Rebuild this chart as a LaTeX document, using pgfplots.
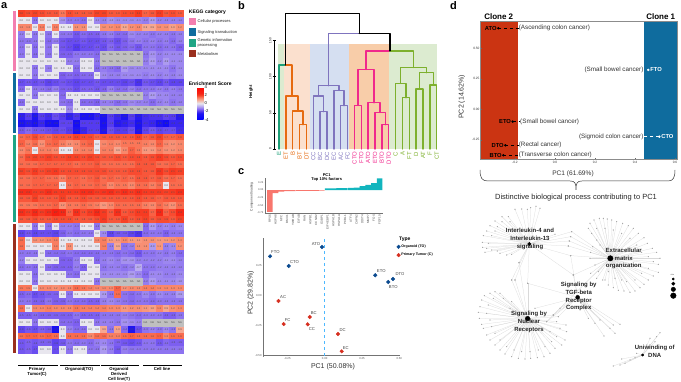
\documentclass[border=0pt]{standalone}
\usepackage{pgfplots}
\usepackage{pgfplotstable}
\pgfplotsset{compat=1.18}
\usepackage{fontspec}
\setmainfont{Liberation Sans}
\newcommand\fs[1]{\fontsize{#1}{#1}\selectfont}
\definecolor{cpink}{HTML}{F37FB0}
\definecolor{cblue}{HTML}{0F6C9E}
\definecolor{cgreen}{HTML}{1FA585}
\definecolor{cbrown}{HTML}{9A2F1E}
\definecolor{dteal}{HTML}{1B9E77}
\definecolor{dor}{HTML}{E66A0F}
\definecolor{dpur}{HTML}{7F74BE}
\definecolor{dpink}{HTML}{F0288C}
\definecolor{dgrn}{HTML}{7DB02D}
\definecolor{dred}{HTML}{CB3412}
\definecolor{dblu}{HTML}{0F6C9E}
\definecolor{ptblue}{HTML}{0B4A8F}
\definecolor{ptred}{HTML}{D62E1F}
\definecolor{salm}{HTML}{F8766D}
\definecolor{tealb}{HTML}{12B5BE}
\definecolor{bandg}{HTML}{DCEBD0}
\definecolor{bandp}{HTML}{FBE0CE}
\definecolor{bandb}{HTML}{D5DFF1}
\definecolor{bando}{HTML}{F8CDA9}
\pgfplotsset{
 colormap={heat}{rgb255=(0,0,255) rgb255=(10,7,250) rgb255=(20,13,245) rgb255=(30,20,240) rgb255=(75,50,240) rgb255=(125,95,240) rgb255=(165,145,240) rgb255=(200,190,239) rgb255=(232,230,238) rgb255=(240,198,188) rgb255=(247,160,135) rgb255=(250,118,88) rgb255=(247,65,38) rgb255=(246,35,20) rgb255=(249,27,15) rgb255=(252,14,8) rgb255=(255,0,0)},
 /pgf/number format/assume math mode=true,
}
\pgfplotstableread[header=false]{
2.0 1.9 2.0 1.9 1.8 1.8 1.5 1.9 1.8 1.8 1.8 2.0 2.0 1.8 1.8 1.9 1.9 2.1 1.7 1.8 2.1 1.8 1.9 1.8
0.0 0.0 -1.3 0.0 0.0 0.0 -1.0 -1.3 -1.3 -1.4 0.0 -1.1 -1.2 -1.0 -1.1 -1.1 -1.1 -1.1 -1.2 -0.9 -1.2 -1.2 -1.2 -1.2
1.3 1.3 0.0 1.4 0.0 1.4 0.0 0.0 1.2 1.2 0.0 0.0 1.2 1.2 1.3 0.9 1.2 1.3 0.9 0.9 1.2 1.2 1.0 1.2
-1.2 0.0 -1.3 0.0 -1.3 0.0 -1.3 -1.3 -1.6 -1.4 -1.5 -1.5 -1.3 -1.2 -1.4 -1.4 -1.1 -1.2 -1.2 -1.3 -1.2 -1.2 -1.3 -1.2
-1.3 -1.3 -1.3 0.0 -1.4 -1.2 -1.6 -1.7 -1.7 -1.6 -1.7 -1.7 -1.6 -1.5 -1.7 -1.5 -1.3 -1.2 -1.3 -1.2 -1.3 -1.2 -1.4 -1.2
-1.3 0.0 -1.4 0.0 -1.3 0.0 -1.6 -1.7 -1.9 -1.7 -1.7 -1.6 -1.7 -1.4 -1.6 -1.5 -1.4 -1.6 -1.3 -1.3 -1.4 -1.3 -1.3 -1.5
-1.3 0.0 -1.4 0.0 -1.3 0.0 -1.5 -1.5 -1.3 -1.3 -1.3 -1.4 0 0 0 0 0 0 -1.3 -1.0 -1.2 -1.1 -1.1 -1.1
0.0 0.0 0.0 0.0 0.0 0.0 0.0 -1.2 -1.2 0.0 0.0 -1.3 0 0 0 0 0 0 -1.2 -0.9 -1.2 -0.9 -1.1 -1.1
0.0 0.0 -1.3 0.0 -1.2 0.0 0.0 0.0 -1.4 0.0 0.0 -1.4 -1.2 -1.3 -1.4 -0.9 -1.1 -1.1 -1.1 -1.1 -1.1 -1.1 -1.3 -1.1
0.0 0.0 -1.3 0.0 0.0 0.0 -1.5 -1.4 -1.5 -1.4 -1.4 0.0 -1.1 -1.2 -1.2 -1.1 -1.1 -1.1 -1.2 -1.1 -1.2 -1.1 -1.2 -1.1
-1.7 -1.6 -1.7 -1.6 -1.8 -1.7 -1.6 -1.7 -1.8 -1.7 -1.7 -1.6 -1.7 -1.7 -1.7 -1.8 -1.7 -2.0 -1.6 -1.7 -1.8 -1.6 -1.8 -1.8
-1.4 0.0 -1.3 -1.3 -1.4 -1.2 -1.5 -1.5 -1.7 -1.5 -1.5 -1.6 -1.5 -1.2 -1.4 -1.4 -1.2 -1.4 -1.3 -1.3 -1.2 -1.3 -1.2 -1.3
0.0 0.0 -1.3 0.0 0.0 0.0 -1.4 0.0 0.0 0.0 0.0 0.0 0 0 0 0 0 0 -1.2 -0.9 -1.1 -1.1 -1.2 -1.2
-1.4 0.0 0.0 0.0 0.0 0.0 -1.3 -1.4 0.0 -1.4 -1.4 -1.5 -1.2 -1.2 -1.4 -1.3 -1.1 -1.2 -1.2 -1.4 -1.2 -1.1 -1.3 -1.2
0.0 0.0 -1.3 0.0 0.0 0.0 0.0 -1.1 0.0 0.0 0.0 0.0 0 0 0 0 0 0 0 0 0 0 0 0
-2.3 -1.9 -2.5 -1.9 -2.1 -1.7 -1.9 -2.3 -2.0 -2.7 -2.7 -2.3 -2.7 -1.9 -2.2 -2.5 -1.9 -2.4 -2.1 -2.0 -2.0 -1.8 -1.9 -2.4
-2.6 -2.4 -2.6 -2.2 -2.7 -2.8 -1.8 -1.8 -2.9 -1.9 -1.9 -1.9 -2.7 -1.9 -2.4 -2.3 -2.1 -2.6 -2.1 -2.2 -2.5 -3.0 -2.2 -2.2
-1.6 -1.4 -1.6 -1.6 -1.7 -1.8 -1.7 -1.9 -2.6 -2.2 -1.9 -1.9 -2.5 -1.7 -1.9 -1.9 -1.7 -2.5 -1.8 -1.6 -1.8 -1.7 -1.7 -2.1
1.6 1.7 1.9 1.7 1.6 1.8 1.8 1.8 2.0 1.9 1.9 1.7 1.8 1.8 1.8 1.8 1.8 2.0 1.7 1.8 2.0 1.7 1.7 1.8
1.7 1.4 1.6 1.2 1.6 1.7 1.4 1.2 1.3 1.6 1.7 0.0 1.3 1.4 1.3 1.5 1.5 1.5 1.4 1.3 1.7 1.3 1.2 1.3
1.3 1.5 0.0 1.4 1.4 1.3 0.0 0.0 1.3 1.4 1.4 0.0 1.4 1.4 0.9 1.3 1.7 1.5 1.1 1.1 1.4 1.2 1.2 1.3
1.6 1.9 2.0 1.9 2.0 1.9 1.9 2.0 2.0 1.9 2.0 1.9 1.8 1.8 1.9 1.8 1.9 1.9 1.8 1.9 2.1 1.9 1.8 1.9
1.6 1.6 1.6 1.7 1.7 1.7 1.7 1.7 1.6 1.7 1.7 1.8 1.6 1.6 1.6 1.6 1.6 1.8 1.8 1.8 1.6 1.6 1.7 1.6
2.0 1.9 2.1 1.9 2.0 2.1 1.9 1.9 1.9 1.9 1.9 1.9 1.9 1.8 1.8 1.8 1.9 1.9 1.8 1.8 2.2 1.9 2.1 2.0
1.6 1.6 1.7 1.7 1.6 1.6 1.4 1.7 1.7 1.6 1.7 1.8 1.6 1.7 1.6 1.7 1.6 1.8 1.8 1.7 1.8 1.6 1.7 1.6
1.6 1.6 1.7 1.7 1.7 1.7 0.0 1.6 1.7 1.6 1.6 1.7 1.6 1.3 1.5 1.5 1.3 1.6 1.6 1.4 1.6 0.0 1.6 1.6
2.3 2.3 2.1 2.1 2.3 2.1 2.1 2.1 2.1 2.3 2.3 2.1 2.2 2.3 2.1 2.3 2.1 2.3 2.1 2.1 2.1 2.0 2.1 2.3
1.8 1.8 2.0 1.8 1.8 1.8 2.0 1.8 1.8 1.9 1.8 1.8 1.8 1.8 1.8 1.8 1.8 1.9 1.8 1.8 1.7 1.8 1.8 1.8
1.5 1.5 1.5 1.6 1.6 1.7 1.2 1.5 1.5 1.6 1.5 1.4 1.1 1.3 1.6 1.6 1.6 1.6 1.4 1.3 1.6 1.4 1.2 1.6
2.3 2.1 2.4 2.1 2.3 2.7 2.4 1.7 2.3 1.9 2.1 2.4 2.1 1.8 2.3 1.8 1.9 2.1 2.1 1.7 2.4 1.7 1.9 2.4
1.8 1.8 1.9 1.8 1.8 1.9 1.9 1.9 1.8 1.8 1.8 1.9 2.1 1.8 1.8 2.0 1.8 1.9 2.0 1.8 1.9 1.9 1.8 2.0
0.0 0.0 -1.3 0.0 -1.3 0.0 -1.2 -1.2 -1.3 0.0 0.0 -1.3 0 0 0 0 0 0 -1.4 -0.9 -1.2 -1.1 -1.2 -1.1
-1.8 -1.6 -1.8 -1.7 -1.7 -1.8 -1.5 -1.3 -1.4 -1.3 -1.3 0.0 -1.1 -1.8 -1.6 -1.6 -1.8 -2.0 -1.4 -1.3 -1.3 -1.5 -1.3 -1.3
1.6 0.0 1.2 1.2 1.3 1.4 0.0 0.0 0.0 0.0 0.0 1.3 1.4 1.1 1.1 1.3 1.1 1.1 1.2 1.2 1.1 1.1 1.2 1.3
1.6 0.0 0.0 0.0 0.0 1.4 0.0 1.2 0.0 0.0 0.0 0.0 1.4 -1.2 0.9 -1.3 -1.2 1.2 1.2 -0.9 1.1 -1.2 -1.1 1.2
-1.3 -1.3 -1.3 0.0 -1.4 -1.4 -1.4 -1.3 -1.4 -1.4 -1.4 -1.4 -1.3 -1.3 -1.4 -1.3 -1.4 -1.6 -1.3 -1.3 -1.2 -1.3 -1.2 -1.4
-1.2 0.0 0.0 0.0 0.0 0.0 -1.5 -1.5 -1.2 0.0 0.0 -1.4 -1.2 -1.1 -1.2 -1.0 -1.0 -1.2 -1.2 -1.2 -1.2 -1.1 -1.1 -1.2
-1.4 -1.3 -1.4 0.0 -1.4 -1.5 -1.5 -1.5 -1.2 -1.5 0.0 0.0 -1.3 -1.2 -1.2 -1.3 -1.2 -0.7 -1.3 -1.3 -1.2 -1.2 -1.2 -1.2
0.0 0.0 -1.4 0.0 0.0 0.0 0.0 -1.3 -1.4 0.0 0.0 0.0 -1.1 -1.1 -1.1 -1.1 -0.9 -1.1 -1.4 -1.1 -1.1 -1.2 -1.2 -1.1
0.0 0.0 -1.3 0.0 0.0 0.0 0.0 0.0 0.0 0.0 0.0 -1.3 0 0 0 0 0 0 -1.2 -0.9 -1.1 -1.1 -1.1 -1.0
1.5 1.5 0.0 1.3 1.3 1.2 1.3 1.3 1.6 1.5 1.4 1.3 1.3 1.3 1.7 1.2 1.3 1.3 1.4 1.4 1.3 1.3 1.3 1.3
-1.5 -1.4 -1.7 -1.6 -1.5 -1.5 0.0 -1.3 0.0 0.0 0.0 0.0 -0.9 -1.3 1.6 -1.3 -1.4 -1.3 -1.1 -1.3 -1.1 -1.2 -1.2 -0.9
-1.3 -1.3 -1.5 -1.5 -1.3 -1.5 -1.5 -1.3 -1.4 -1.4 -1.5 -1.5 -1.2 -1.1 -1.2 -1.3 -1.4 -1.3 -1.3 -1.4 -1.3 -1.3 -1.3 -1.3
1.6 0.0 1.3 1.3 1.4 1.3 1.3 1.3 1.5 1.4 1.4 1.4 1.4 1.3 1.3 1.1 1.2 1.2 1.1 1.0 1.3 0.9 1.2 1.3
-1.5 -1.5 -1.4 -1.5 -1.5 -1.5 -1.5 -1.5 -1.3 -1.5 -1.5 -1.5 -1.3 -1.3 -1.3 -1.2 -1.3 -1.4 -1.3 -1.3 -1.3 -1.5 -1.5 -1.3
0.0 0.0 -1.3 0.0 0.0 0.0 -1.4 -1.4 -1.5 0.0 0.0 -1.3 -1.2 -1.2 -1.3 -1.0 -1.1 -1.2 0 0 0 0 0 0
-1.8 -1.6 -1.7 -1.5 -1.6 -2.7 0.0 -1.2 -1.4 -1.4 0.0 0.0 0.9 -1.3 1.0 -1.4 -2.5 -1.7 -1.3 -1.2 -1.3 -1.1 -1.3 0.9
1.6 1.7 1.7 1.6 1.7 1.6 0.0 1.6 1.6 1.6 1.3 1.6 1.6 1.4 1.4 1.6 1.7 1.6 1.6 1.6 1.7 1.3 1.6 1.6
-1.6 -1.5 -1.6 -1.5 -1.5 -1.8 -1.6 -1.3 -1.4 -1.3 -1.4 -1.2 -1.1 -1.3 -1.5 -1.6 -1.7 -1.6 -1.3 -1.3 -1.6 -1.4 -1.5 -1.5
-1.6 -1.5 -1.7 0.0 0.0 -1.7 0.0 -1.3 0.0 0.0 -1.3 -1.3 -0.9 -1.2 -1.6 -1.2 -1.3 -1.3 -1.3 -1.3 -1.3 -1.3 -1.3 -1.3
}\heat
\pgfplotstableread{
x y
288 124
300 130
272 128
262 133
245 132
225 133
205 155
186 155
210 170
186 170
165 168
150 182
172 185
165 198
140 198
155 212
130 212
127 232
145 235
128 247
140 250
135 262
155 255
172 258
180 265
200 270
215 268
395 200
392 215
388 228
385 243
345 208
320 215
392 272
237 293
225 345
215 345
263 355
400 330
}\ilt
\pgfplotstableread{
x y
450 175
462 165
478 160
490 160
502 162
515 165
530 170
548 175
565 182
580 190
595 205
612 218
622 235
637 250
650 262
660 280
655 298
655 322
640 333
625 345
612 358
600 368
585 378
570 382
552 378
535 376
520 368
505 360
495 345
488 345
470 340
452 325
445 190
455 205
470 225
480 240
458 245
470 190
495 190
520 195
545 205
570 220
590 240
605 262
625 275
640 290
625 310
605 325
585 345
560 350
545 345
525 340
505 320
475 320
465 300
450 280
452 262
395 200
392 215
388 228
385 243
392 272
400 330
340 450
320 470
}\ecmt
\pgfplotstableread{
x y
165 380
150 385
133 392
125 405
120 425
115 442
118 460
125 478
130 490
140 510
150 525
165 540
180 555
195 567
215 575
235 580
255 582
272 580
292 578
312 575
330 565
345 550
365 540
375 525
380 500
378 480
360 490
350 470
160 400
180 385
190 400
145 420
140 445
150 465
155 485
165 505
180 525
200 545
222 555
245 560
270 560
295 555
315 545
335 530
350 515
330 500
237 293
225 345
215 345
263 355
340 450
320 470
355 455
210 430
215 410
}\nuct
\pgfplotstableread{
x y
540 478
520 480
525 505
510 490
492 513
480 465
465 475
445 460
340 450
320 470
285 430
400 330
392 272
263 355
360 430
355 455
}\tgft
\pgfplotstableread{
x y
660 503
650 515
630 520
645 530
620 540
520 603
540 600
555 595
570 585
585 578
545 582
590 565
}\dnat
\begin{document}
\begin{tikzpicture}[x=1pt,y=1pt]
\path[use as bounding box] (0,0) rectangle (681,382);
% ---------------- panel a
\begin{axis}[scale only axis,anchor=south west,at={(17.9pt,28.6pt)},width=165.5pt,height=343.1pt,
 xmin=-0.5,xmax=23.5,ymin=-0.5,ymax=49.5,y dir=reverse,clip=false,
 axis line style={draw=none},major tick length=0pt,ytick=\empty,
 xtick={0,...,23},xticklabels={AC,BC,CC,DC,EC,FC,ATO,BTO,CTO,DTO,ETO,FTO,AT,BT,CT,DT,ET,FT,A,B,C,D,E,F},
 xticklabel pos=upper,
 x tick label style={rotate=90,anchor=east,font=\fs{2.9},text=black!75,inner sep=1pt},
 colormap name=heat,point meta min=-4,point meta max=4,
 colorbar,
 colorbar style={anchor=north west,at={(parent axis.north east)},xshift=5.3pt,yshift=-76.8pt,
  width=6.3pt,height=32.5pt,ytick={-4,-2,0,2,4},major tick length=0pt,axis line style={draw=none},
  yticklabel style={font=\fs{4.2},inner sep=1pt},yticklabels={-4,-2,0,2,4}},
]
\pgfplotsinvokeforeach{0,...,23}{
\addplot[scatter,only marks,mark=square*,mark size=3.43pt,point meta=explicit,
 scatter/use mapped color={draw=mapped color,fill=mapped color},
 nodes near coords*={\pgfmathprintnumber[fixed,fixed zerofill,precision=1]{\pgfplotspointmeta}},
 every node near coord/.style={anchor=center,font=\fs{2.6},text=black!70,inner sep=0pt}]
 table[x expr=#1,y expr=\coordindex,meta index=#1]{\heat};
}
\addplot[only marks,mark=square*,mark size=3.43pt,color=black!25,point meta=explicit symbolic,
 nodes near coords={NA},every node near coord/.style={anchor=center,font=\fs{2.6},text=black!70,inner sep=0pt}]
 coordinates {(12,6)(13,6)(14,6)(15,6)(16,6)(17,6)(12,7)(13,7)(14,7)(15,7)(16,7)(17,7)
 (12,12)(13,12)(14,12)(15,12)(16,12)(17,12)
 (12,14)(13,14)(14,14)(15,14)(16,14)(17,14)(18,14)(19,14)(20,14)(21,14)(22,14)(23,14)
 (12,31)(13,31)(14,31)(15,31)(16,31)(17,31)(12,39)(13,39)(14,39)(15,39)(16,39)(17,39)
 (18,45)(19,45)(20,45)(21,45)(22,45)(23,45)};
\addplot[white,line width=0.8pt] coordinates {(5.5,-0.5)(5.5,49.5)};
\addplot[white,line width=0.8pt] coordinates {(11.5,-0.5)(11.5,49.5)};
\addplot[white,line width=0.8pt] coordinates {(17.5,-0.5)(17.5,49.5)};
\addplot[white,line width=0.8pt] coordinates {(-0.5,8.5)(23.5,8.5)};
\addplot[white,line width=0.8pt] coordinates {(-0.5,17.5)(23.5,17.5)};
\addplot[white,line width=0.8pt] coordinates {(-0.5,30.5)(23.5,30.5)};
\addplot[fill=cpink,draw=none] coordinates {(-1.27,-0.38)(-0.835,-0.38)(-0.835,8.32)(-1.27,8.32)} --cycle;
\addplot[fill=cblue,draw=none] coordinates {(-1.27,8.65)(-0.835,8.65)(-0.835,17.36)(-1.27,17.36)} --cycle;
\addplot[fill=cgreen,draw=none] coordinates {(-1.27,17.69)(-0.835,17.69)(-0.835,30.37)(-1.27,30.37)} --cycle;
\addplot[fill=cbrown,draw=none] coordinates {(-1.27,30.66)(-0.835,30.66)(-0.835,49.5)(-1.27,49.5)} --cycle;
\end{axis}
% ---------------- panel b
\begin{axis}[scale only axis,anchor=south west,at={(274pt,233pt)},width=164.8pt,height=108.3pt,
 xmin=-0.73,xmax=23.3,ymin=0,ymax=150,clip=false,
 axis y line=left,axis x line=bottom,x axis line style={draw=none,-},y axis line style={-,line width=0.8pt},
 ytick={0,50,100,150},xtick={0,...,23},
 tick style={black,line width=0.6pt},major tick length=3pt,
 x tick style={draw=none},
 y tick label style={rotate=90,font=\fs{3},anchor=south,inner sep=1pt},
 xticklabels={\textcolor{dteal}{E},\textcolor{dor}{ET},\textcolor{dor}{B},\textcolor{dor}{BT},\textcolor{dor}{DT},
 \textcolor{dpur}{CC},\textcolor{dpur}{BC},\textcolor{dpur}{DC},\textcolor{dpur}{EC},\textcolor{dpur}{AC},\textcolor{dpur}{FC},
 \textcolor{dpink}{CTO},\textcolor{dpink}{FTO},\textcolor{dpink}{ATO},\textcolor{dpink}{ETO},\textcolor{dpink}{BTO},\textcolor{dpink}{DTO},
 \textcolor{dgrn}{C},\textcolor{dgrn}{A},\textcolor{dgrn}{FT},\textcolor{dgrn}{D},\textcolor{dgrn}{AT},\textcolor{dgrn}{F},\textcolor{dgrn}{CT}},
 x tick label style={rotate=90,anchor=east,font=\fs{6},inner sep=1pt},
 den/.style={line width=1.4pt,line cap=round,line join=round},
]
\addplot[fill=bandg,draw=none] coordinates {(-0.1,0)(0.78,0)(0.78,146)(-0.1,146)} --cycle;
\addplot[fill=bandp,draw=none] coordinates {(0.78,0)(4.52,0)(4.52,146)(0.78,146)} --cycle;
\addplot[fill=bandb,draw=none] coordinates {(4.52,0)(10.2,0)(10.2,146)(4.52,146)} --cycle;
\addplot[fill=bando,draw=none] coordinates {(10.2,0)(16.04,0)(16.04,146)(10.2,146)} --cycle;
\addplot[fill=bandg,draw=none] coordinates {(16.04,0)(23,0)(23,146)(16.04,146)} --cycle;
\addplot[den,dteal] coordinates {(0,0)(0,116.3)(0.94,116.3)};
\addplot[den,dor] coordinates {(0.94,116.3)(1.88,116.3)(1.88,73.4)};
\addplot[den,dor] coordinates {(1,0)(1,73.4)(2.75,73.4)(2.75,52.6)};
\addplot[den,dor] coordinates {(2,0)(2,52.6)(3.5,52.6)(3.5,33.7)};
\addplot[den,dor] coordinates {(3,0)(3,33.7)(4,33.7)(4,0)};
\addplot[den,dpur] coordinates {(5,0)(5,73.4)(6.5,73.4)(6.5,51.7)};
\addplot[den,dpur] coordinates {(6,0)(6,51.7)(7,51.7)(7,0)};
\addplot[den,dpur] coordinates {(5.75,73.4)(5.75,87.7)(8.75,87.7)(8.75,81.2)};
\addplot[den,dpur] coordinates {(8,0)(8,81.2)(9.5,81.2)(9.5,60)};
\addplot[den,dpur] coordinates {(9,0)(9,60)(10,60)(10,0)};
\addplot[den,dpur] coordinates {(7.25,87.7)(7.25,160)(11.7,160)};
\addplot[den,dpink] coordinates {(11,0)(11,60.5)(12,60.5)(12,0)};
\addplot[den,dpink] coordinates {(13,0)(13,64)(14.75,64)(14.75,50.8)};
\addplot[den,dpink] coordinates {(14,0)(14,50.8)(15.5,50.8)(15.5,33.7)};
\addplot[den,dpink] coordinates {(15,0)(15,33.7)(16,33.7)(16,0)};
\addplot[den,dpink] coordinates {(11.5,60.5)(11.5,110.3)(13.875,110.3)(13.875,64)};
\addplot[den,dpink] coordinates {(12.69,110.3)(12.69,136)(16.16,136)};
\addplot[den,dgrn] coordinates {(18,0)(18,71)(19,71)(19,0)};
\addplot[den,dgrn] coordinates {(17,0)(17,91)(18.5,91)(18.5,71)};
\addplot[den,dgrn] coordinates {(20,0)(20,83)(21,83)(21,0)};
\addplot[den,dgrn] coordinates {(22,0)(22,88.6)(23,88.6)(23,0)};
\addplot[den,dgrn] coordinates {(20.5,83)(20.5,105.7)(22.5,105.7)(22.5,88.6)};
\addplot[den,dgrn] coordinates {(17.75,91)(17.75,113)(21.5,113)(21.5,105.7)};
\addplot[den,dgrn] coordinates {(16.16,136)(19.625,136)(19.625,113)};
\addplot[den,black] coordinates {(11.7,160)(16.16,160)(16.16,136)};
\addplot[den,black] coordinates {(0.94,116.3)(0.94,187.4)(11.7,187.4)(11.7,160)};
\end{axis}
% ---------------- panel c bars
\begin{axis}[scale only axis,anchor=south west,at={(265pt,168.7pt)},width=118.3pt,height=35.6pt,
 xmin=-0.84,xmax=19.63,ymin=-0.766,ymax=0.405,clip=false,
 axis x line=bottom,axis y line=left,axis line style={-,black!55,line width=0.5pt},
 xtick={0,...,19},ytick={-0.75,-0.5,-0.25,0,0.25},
 yticklabels={-0.75,-0.50,-0.25,0.00,0.25},
 xticklabels={RPS6,HSPA8,MYC,BMX1,YWHAB,EIF4B,RAN,HSPB1,CCND2,G3BP1,EIF4EBP1,HSPA1B,HSPA1A,PCBL1,ATF4,CAPN2,DDIT4,MMP7,FOS,FGF19},
 x tick label style={rotate=90,anchor=east,font=\fs{3},text=black!70,inner sep=1pt},
 y tick label style={font=\fs{2.6},text=black!70,inner sep=1pt},
 major tick length=1pt,tick style={black!50},
]
\addplot[ybar,bar width=5.5pt,bar shift=0pt,fill=salm,draw=none] coordinates {(0,-0.72)(1,-0.10)(2,-0.05)(3,-0.04)(4,-0.035)(5,-0.03)(6,-0.03)(7,-0.03)(8,-0.025)(9,-0.02)};
\addplot[ybar,bar width=5.5pt,bar shift=0pt,fill=tealb,draw=none] coordinates {(10,0.05)(11,0.055)(12,0.06)(13,0.065)(14,0.07)(15,0.08)(16,0.13)(17,0.17)(18,0.23)(19,0.38)};
\end{axis}
% ---------------- panel c scatter
\begin{axis}[scale only axis,anchor=south west,at={(263.3pt,26.3pt)},width=136.7pt,height=117.4pt,
 xmin=-0.4115,xmax=0.5047,ymin=-0.5,ymax=0.472,clip=false,
 axis x line=bottom,axis y line=left,axis line style={-,black!55,line width=0.6pt},
 xtick={-0.25,0,0.25,0.5},ytick={-0.5,-0.25,0,0.25},
 xticklabels={-0.25,0.00,0.25,0.50},yticklabels={-0.50,-0.25,0.00,0.25},
 tick label style={font=\fs{2.8},text=black!70,inner sep=1pt},
 major tick length=1pt,tick style={black!50},
 legend style={at={(0.975,0.955)},anchor=north west,draw=none,fill=none,font=\bfseries\fs{3.6},row sep=2.2pt,inner sep=0pt,
  legend cell align=left,nodes={inner sep=1pt}},
]
\addplot[only marks,mark=*,mark size=1.8pt,color=ptblue] coordinates {(-0.018,0.4)(-0.366,0.323)(-0.241,0.243)(0.339,0.166)(0.458,0.135)(0.426,0.110)};
\addlegendentry{Organoid (TO)}
\addplot[only marks,mark=*,mark size=1.8pt,color=ptred] coordinates {(-0.310,-0.047)(-0.100,-0.180)(-0.275,-0.238)(-0.114,-0.240)(0.089,-0.320)(0.114,-0.464)};
\addlegendentry{Primary Tumor (C)}
\addplot[dashed,color=blue!40!cyan!70!white,line width=0.6pt,forget plot] coordinates {(0,-0.5)(0,0.472)};
\tikzset{sl/.style={font=\fs{4.2},text=black!75,inner sep=0pt}}
\node[sl,xshift=-6pt,yshift=3.3pt] at (axis cs:-0.018,0.4) {ATO};
\node[sl,xshift=5.3pt,yshift=4pt] at (axis cs:-0.366,0.323) {FTO};
\node[sl,xshift=5.7pt,yshift=3.7pt] at (axis cs:-0.241,0.243) {CTO};
\node[sl,xshift=6pt,yshift=4.3pt] at (axis cs:0.339,0.166) {ETO};
\node[sl,xshift=7pt,yshift=4.7pt] at (axis cs:0.458,0.135) {DTO};
\node[sl,xshift=5pt,yshift=-5.3pt] at (axis cs:0.426,0.110) {BTO};
\node[sl,xshift=4.7pt,yshift=4pt] at (axis cs:-0.310,-0.047) {AC};
\node[sl,xshift=4pt,yshift=4.3pt] at (axis cs:-0.100,-0.180) {BC};
\node[sl,xshift=4pt,yshift=4pt] at (axis cs:-0.275,-0.238) {FC};
\node[sl,xshift=4.3pt,yshift=-4.7pt] at (axis cs:-0.114,-0.240) {CC};
\node[sl,xshift=4.7pt,yshift=3.7pt] at (axis cs:0.089,-0.320) {DC};
\node[sl,xshift=4pt,yshift=3.7pt] at (axis cs:0.114,-0.464) {EC};
\end{axis}
% ---------------- panel d
\begin{axis}[scale only axis,anchor=south west,at={(480.7pt,222pt)},width=196.6pt,height=138pt,
 xmin=-0.3715,xmax=0.6115,ymin=-0.415,ymax=0.714,clip=false,axis on top,
 axis line style={black!45,line width=1pt},
 xtick={-0.2,0,0.2,0.4,0.6},ytick={-0.25,0,0.25,0.5},
 xticklabels={-0.2,0.0,0.2,0.4,0.6},yticklabels={-0.25,0.00,0.25,0.50},
 xtick pos=lower,ytick pos=left,
 tick label style={font=\fs{3.2},text=black!80,inner sep=1pt},
 major tick length=1.5pt,tick style={black!60},
]
\addplot[fill=dred,draw=none] coordinates {(-0.3715,-0.415)(-0.186,-0.415)(-0.186,0.714)(-0.3715,0.714)} --cycle;
\addplot[fill=dblu,draw=none] coordinates {(0.4465,-0.415)(0.6115,-0.415)(0.6115,0.714)(0.4465,0.714)} --cycle;
\addplot[black,dashed,line width=0.35pt] coordinates {(-0.2833,0.663)(-0.1817,0.663)};
\addplot[black,dashed,line width=0.35pt] coordinates {(-0.2117,-0.101)(-0.175,-0.101)};
\addplot[black,dashed,line width=0.35pt] coordinates {(-0.248,-0.295)(-0.1817,-0.295)};
\addplot[black,dashed,line width=0.35pt] coordinates {(-0.258,-0.376)(-0.1817,-0.376)};
\addplot[white,dashed,line width=0.35pt] coordinates {(0.5217,-0.224)(0.4465,-0.224)};
\addplot[only marks,mark=*,mark size=1pt,color=black] coordinates {(-0.2833,0.663)(-0.2117,-0.101)(-0.248,-0.295)(-0.258,-0.376)};
\addplot[only marks,mark=*,mark size=1pt,color=white] coordinates {(0.4667,0.322)(0.5217,-0.224)};
\tikzset{dl/.style={font=\bfseries\fs{5.8},inner sep=0pt,anchor=east,xshift=-1.5pt},dr/.style={font=\bfseries\fs{5.8},text=white,inner sep=0pt,anchor=west,xshift=1.8pt},
 dt/.style={font=\fs{6.3},text=black!80,inner sep=0pt}}
\node[dl] at (axis cs:-0.2833,0.663) {ATO};
\node[dl] at (axis cs:-0.2117,-0.101) {ETO};
\node[dl] at (axis cs:-0.248,-0.295) {DTO};
\node[dl] at (axis cs:-0.258,-0.376) {BTO};
\node[dr] at (axis cs:0.4667,0.322) {FTO};
\node[dr] at (axis cs:0.5217,-0.224) {CTO};
\node[dt,anchor=west] at (axis cs:-0.1817,0.668) {(Ascending colon cancer)};
\node[dt,anchor=west] at (axis cs:-0.175,-0.101) {(Small bowel cancer)};
\node[dt,anchor=west] at (axis cs:-0.1817,-0.295) {(Rectal cancer)};
\node[dt,anchor=west] at (axis cs:-0.1817,-0.376) {(Transverse colon cancer)};
\node[dt,anchor=east] at (axis cs:0.4433,0.322) {(Small bowel cancer)};
\node[dt,anchor=east] at (axis cs:0.4433,-0.224) {(Sigmoid colon cancer)};
\end{axis}
% ---------------- network
\begin{axis}[scale only axis,anchor=south west,at={(440pt,0pt)},width=241pt,height=217pt,
 xmin=0,xmax=723,ymin=0,ymax=651,y dir=reverse,hide axis,clip=false]
\addplot[black!15,line width=0.25pt,quiver={u=268-\thisrow{x},v=237-\thisrow{y}}] table {\ilt};
\addplot[black!15,line width=0.25pt,quiver={u=511-\thisrow{x},v=280-\thisrow{y}}] table {\ecmt};
\addplot[black!15,line width=0.25pt,quiver={u=263-\thisrow{x},v=461-\thisrow{y}}] table {\nuct};
\addplot[black!15,line width=0.25pt,quiver={u=413-\thisrow{x},v=397-\thisrow{y}}] table {\tgft};
\addplot[black!15,line width=0.25pt,quiver={u=608-\thisrow{x},v=570-\thisrow{y}}] table {\dnat};
\addplot[only marks,mark=*,mark size=0.35pt,color=black!35] table {\ilt};
\addplot[only marks,mark=*,mark size=0.35pt,color=black!35] table {\ecmt};
\addplot[only marks,mark=*,mark size=0.35pt,color=black!35] table {\nuct};
\addplot[only marks,mark=*,mark size=0.35pt,color=black!35] table {\tgft};
\addplot[only marks,mark=*,mark size=0.35pt,color=black!35] table {\dnat};
\addplot[only marks,mark=*,mark size=1.8pt,color=black] coordinates {(268,237)};
\addplot[only marks,mark=*,mark size=2.7pt,color=black] coordinates {(511,280)};
\addplot[only marks,mark=*,mark size=2pt,color=black] coordinates {(413,397)};
\addplot[only marks,mark=*,mark size=2.4pt,color=black] coordinates {(263,461)};
\addplot[only marks,mark=*,mark size=1.2pt,color=black] coordinates {(608,570)};
\addplot[only marks,mark=*,mark size=1.1pt,color=black] coordinates {(700,342)};
\addplot[only marks,mark=*,mark size=1.7pt,color=black] coordinates {(700,356)};
\addplot[only marks,mark=*,mark size=2.2pt,color=black] coordinates {(700,373)};
\addplot[only marks,mark=*,mark size=2.8pt,color=black] coordinates {(700,392)};
\end{axis}
% ---------------- page level text (pixel coordinates)
\begin{scope}[shift={(0,382)},y=-1pt,x=1pt]
\tikzset{lt/.style={inner sep=0pt,anchor=west,font=\fs{4},text=black!85},bt/.style={inner sep=0pt,font=\bfseries\fs{4.3},align=center},
 let/.style={inner sep=0pt,font=\bfseries\fs{11},anchor=west}}
\node[let] at (1,6) {a};
\node[let] at (238,6) {b};
\node[let] at (238,172) {c};
\node[let] at (450,6) {d};
\draw[black,line width=0.7pt] (18,365)--(58,365) (60,365)--(99.5,365) (101,365)--(139,365) (143,365)--(182,365);
\node[bt,anchor=north] at (37,367.5) {Primary\\[0.7pt]Tumor(C)};
\node[bt,anchor=north] at (79,367.5) {Organoid(TO)};
\node[bt,anchor=north] at (119,367.5) {Organoid\\[0.7pt]Derived\\[0.7pt]Cell line(T)};
\node[bt,anchor=north] at (162,367.5) {Cell line};
\node[inner sep=0pt,anchor=west,font=\bfseries\fs{5}] at (188.7,12.7) {KEGG category};
\fill[cpink] (188.7,17.7) rectangle (196,25);
\fill[cblue] (188.7,28.3) rectangle (196,35.7);
\fill[cgreen] (188.7,39) rectangle (196,46.7);
\fill[cbrown] (188.7,50) rectangle (196,57.3);
\node[lt] at (197.5,21.3) {Cellular processes};
\node[lt] at (197.5,32) {Signaling transduction};
\node[lt,align=left] at (197.5,43) {Genetic information\\[0.5pt]processing};
\node[lt] at (197.5,54) {Metabolism};
\node[inner sep=0pt,anchor=west,font=\bfseries\fs{5}] at (188.7,84) {Enrichment Score};
\node[inner sep=0pt,rotate=90,font=\bfseries\fs{4.2}] at (251,92) {Height};
\node[inner sep=0pt,font=\bfseries\fs{4},align=center] at (326.7,177.5) {PC1\\[0.5pt]Top 10\% factors};
\node[inner sep=0pt,rotate=90,font=\fs{3.3},text=black!80] at (251.7,196.7) {Component loading};
\node[inner sep=0pt,font=\fs{7},text=black!80] at (333,366.7) {PC1 (50.08\%)};
\node[inner sep=0pt,rotate=90,font=\fs{7},text=black!80] at (250.7,293) {PC2 (29.82\%)};
\node[inner sep=0pt,anchor=west,font=\bfseries\fs{5}] at (399,239) {Type};
\node[inner sep=0pt,font=\bfseries\fs{8}] at (498.7,16.7) {Clone 2};
\node[inner sep=0pt,font=\bfseries\fs{8}] at (660.7,16.7) {Clone 1};
\node[inner sep=0pt,rotate=90,font=\fs{7},text=black!80] at (461.7,96.7) {PC2 (14.62\%)};
\node[inner sep=0pt,font=\fs{6.6},text=black!80] at (573,173.7) {PC1 (61.69\%)};
\draw[black!80,line width=0.5pt] (480,170) .. controls (480,178) and (482,181) .. (488,181) -- (570,181) .. controls (575,181) and (576,183) .. (576,190)
  .. controls (576,183) and (577,181) .. (582,181) -- (668,181) .. controls (673,181) and (675,178) .. (675,170);
\node[inner sep=0pt,font=\fs{7.5},text=black!85] at (576,197.3) {Distinctive biological process contributing to PC1};
\tikzset{nl/.style={inner sep=0pt,font=\bfseries\fs{6},align=center,text=black!85}}
\node[nl] at (530,239) {Interleukin-4 and\\[1.6pt]Interleukin-13\\[1.6pt]signaling};
\node[nl] at (623.7,258.7) {Extracellular\\[1.6pt]matrix\\[1.6pt]organization};
\node[nl] at (578.7,296.7) {Signaling by\\[1.6pt]TGF-beta\\[1.6pt]Receptor\\[1.6pt]Complex};
\node[nl] at (529,322) {Signaling by\\[1.6pt]Nuclear\\[1.6pt]Receptors};
\node[nl] at (654.7,351.3) {Uniwinding of\\[1.6pt]DNA};
\node[inner sep=0pt,font=\fs{2},text=black!70] at (672.5,274.5) {size};
\end{scope}
\end{tikzpicture}
\end{document}
